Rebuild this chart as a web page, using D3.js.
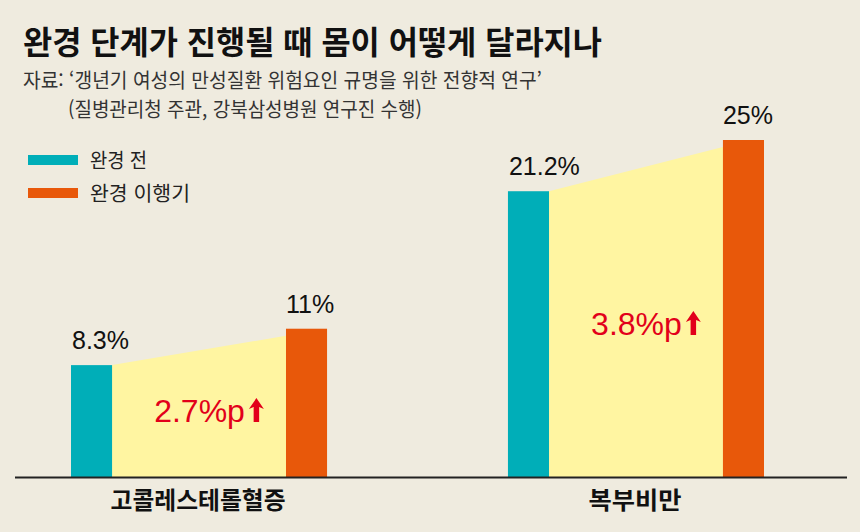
<!DOCTYPE html>
<html lang="ko">
<head>
  <meta charset="UTF-8">
  <title>완경 단계가 진행될 때 몸이 어떻게 달라지나</title>
  <script src="https://d3js.org/d3.v7.min.js"></script>
  <style>
    body { margin: 0; background: #efebdf; }
    svg { display: block; }
    .kr { font-family: "Noto Sans CJK KR", "Noto Sans", sans-serif; }
    .num { font-family: "Liberation Sans", Arial, sans-serif; }
  </style>
</head>
<body>
  <svg width="860" height="532"></svg>

  <script>
  // data
  const categories = ["고콜레스테롤혈증", "복부비만"];
  const series = ["완경 전", "완경 이행기"];
  const before = [8.3, 21.2];
  const after = [11, 25];
  const labelsBefore = ["8.3%", "21.2%"];
  const labelsAfter = ["11%", "25%"];
  const diffLabels = ["2.7%p", "3.8%p"];

  const colors = ["#00aeb8", "#e8580a"];
  const width = 860, height = 532;
  const baseY = 477;

  const svg = d3.select("svg");

  svg.append("rect")
    .attr("width", width)
    .attr("height", height)
    .attr("fill", "#efebdf");

  // title + source
  svg.append("text")
    .attr("class", "kr")
    .attr("x", 23)
    .attr("y", 54)
    .attr("font-size", "32px")
    .attr("font-weight", 700)
    .attr("fill", "#111")
    .attr("textLength", 579)
    .attr("lengthAdjust", "spacingAndGlyphs")
    .text("완경 단계가 진행될 때 몸이 어떻게 달라지나");

  svg.append("text")
    .attr("class", "kr")
    .attr("x", 23)
    .attr("y", 88)
    .attr("font-size", "20px")
    .attr("fill", "#333")
    .attr("textLength", 519)
    .attr("lengthAdjust", "spacingAndGlyphs")
    .text("자료: ‘갱년기 여성의 만성질환 위험요인 규명을 위한 전향적 연구’");

  svg.append("text")
    .attr("class", "kr")
    .attr("x", 68)
    .attr("y", 117)
    .attr("font-size", "20px")
    .attr("fill", "#333")
    .attr("textLength", 354)
    .attr("lengthAdjust", "spacingAndGlyphs")
    .text("(질병관리청 주관, 강북삼성병원 연구진 수행)");

  // legend
  const legendWidths = [57, 100];
  const legend = svg.append("g").attr("transform", "translate(28,155)");
  series.forEach((s, i) => {
    legend.append("rect")
      .attr("x", 0)
      .attr("y", i * 33)
      .attr("width", 50)
      .attr("height", 10)
      .attr("fill", colors[i]);
    legend.append("text")
      .attr("class", "kr")
      .attr("x", 62)
      .attr("y", i * 33 + 13)
      .attr("font-size", "20px")
      .attr("fill", "#222")
      .attr("textLength", legendWidths[i])
      .attr("lengthAdjust", "spacingAndGlyphs")
      .text(s);
  });

  // scales
  const x0 = d3.scaleBand()
    .domain(categories)
    .range([71, 764])
    .paddingInner(0.414);

  const x1 = d3.scaleBand()
    .domain(series)
    .range([0, x0.bandwidth()])
    .paddingInner(0.809);

  const y = d3.scaleLinear()
    .domain([0, 25])
    .range([baseY, 140]);

  const bw = x1.bandwidth();

  categories.forEach((c, i) => {
    const g = svg.append("g");
    const xb = x0(c) + x1(series[0]);
    const xa = x0(c) + x1(series[1]);

    // yellow band between the two bars
    g.append("polygon")
      .attr("points", [
        [xb + bw, y(before[i])],
        [xa, y(after[i]) + 7],
        [xa, y(0)],
        [xb + bw, y(0)]
      ].map(p => p.join(",")).join(" "))
      .attr("fill", "#fff5a1");

    g.append("rect")
      .attr("x", xb)
      .attr("y", y(before[i]))
      .attr("width", bw)
      .attr("height", y(0) - y(before[i]))
      .attr("fill", colors[0]);

    g.append("rect")
      .attr("x", xa)
      .attr("y", y(after[i]))
      .attr("width", bw)
      .attr("height", y(0) - y(after[i]))
      .attr("fill", colors[1]);

    g.append("text")
      .attr("class", "num")
      .attr("x", xb + 1)
      .attr("y", y(before[i]) - 16)
      .attr("font-size", "25px")
      .attr("fill", "#111")
      .text(labelsBefore[i]);

    g.append("text")
      .attr("class", "num")
      .attr("x", xa)
      .attr("y", y(after[i]) - 16)
      .attr("font-size", "25px")
      .attr("fill", "#111")
      .text(labelsAfter[i]);

    // red difference label with a thick up arrow
    const midY = (y(0) + y(before[i])) / 2 + 1;
    const diff = g.append("text")
      .attr("class", "num")
      .attr("y", midY)
      .attr("font-size", "32px")
      .attr("fill", "#e2001a")
      .text(diffLabels[i]);
    const tw = diff.node().getComputedTextLength();
    const aw = 15, gap = 4;
    const startX = x0(c) + x0.bandwidth() / 2 + 10 - (tw + gap + aw) / 2;
    diff.attr("x", startX);

    const ax = startX + tw + gap, ah = 24, hh = 11, sw = 5.5;
    g.append("path")
      .attr("d", `M${ax + aw / 2},${midY - ah}
        L${ax + aw},${midY - ah + hh}
        L${ax + aw / 2 + sw / 2},${midY - ah + hh - 2}
        L${ax + aw / 2 + sw / 2},${midY}
        L${ax + aw / 2 - sw / 2},${midY}
        L${ax + aw / 2 - sw / 2},${midY - ah + hh - 2}
        L${ax},${midY - ah + hh}Z`)
      .attr("fill", "#e2001a");
  });

  // baseline + category labels
  svg.append("line")
    .attr("x1", 15)
    .attr("x2", 847)
    .attr("y1", baseY + 0.5)
    .attr("y2", baseY + 0.5)
    .attr("stroke", "#222")
    .attr("stroke-width", 2);

  const catWidths = [175, 93];
  categories.forEach((c, i) => {
    svg.append("text")
      .attr("class", "kr")
      .attr("x", x0(c) + x0.bandwidth() / 2 - 1)
      .attr("y", 509)
      .attr("text-anchor", "middle")
      .attr("font-size", "24px")
      .attr("font-weight", 700)
      .attr("fill", "#111")
      .attr("textLength", catWidths[i])
      .attr("lengthAdjust", "spacingAndGlyphs")
      .text(c);
  });
  </script>
</body>
</html>
